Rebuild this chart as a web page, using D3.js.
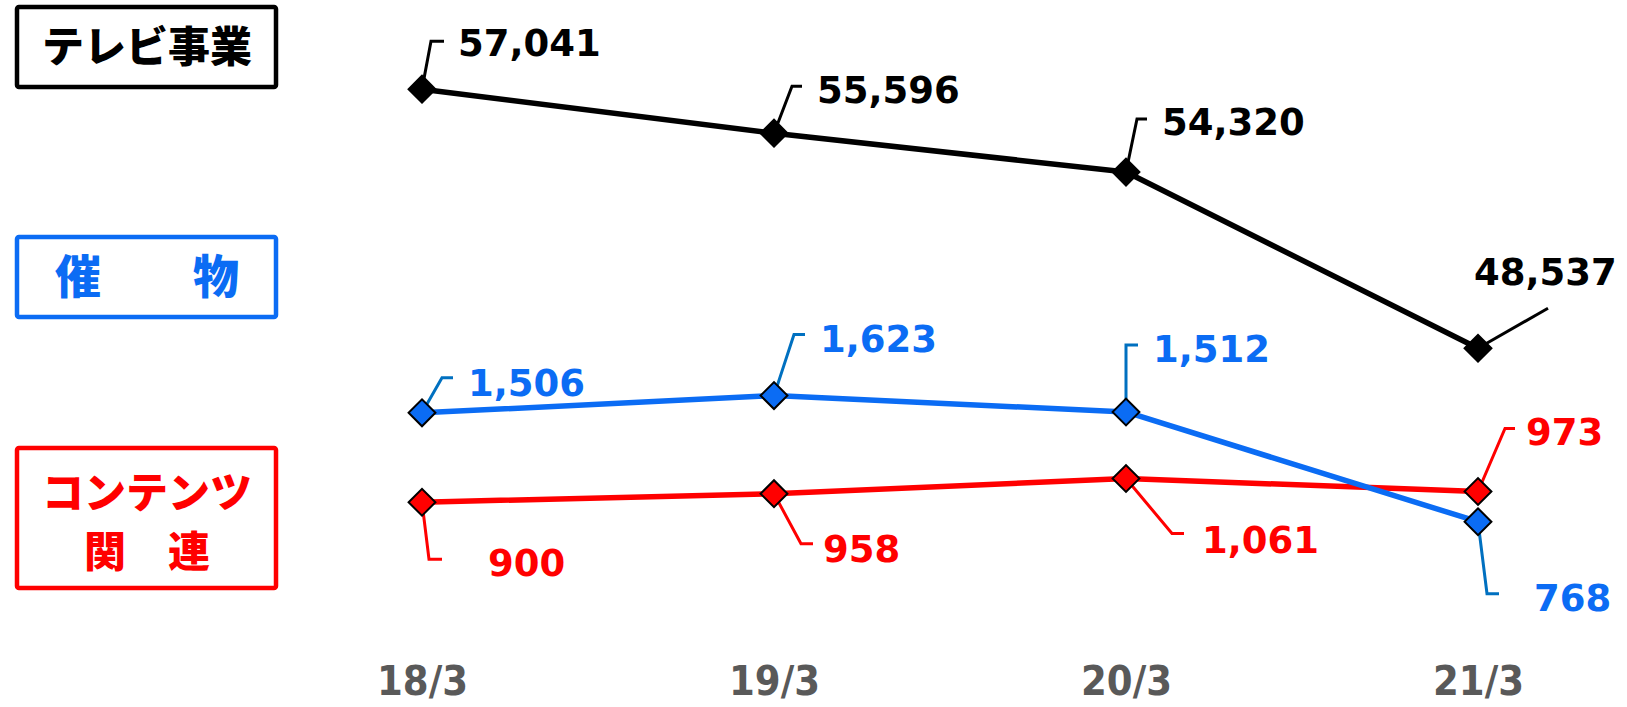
<!DOCTYPE html>
<html>
<head>
<meta charset="utf-8">
<script src="https://cdn.jsdelivr.net/npm/d3@7"></script>
<style>
  html, body { margin: 0; padding: 0; background: #fff; }
  svg { display: block; }
</style>
</head>
<body>
<svg id="chart" width="1627" height="707"></svg>
<script>
// data
const periods = ['18/3', '19/3', '20/3', '21/3'];
const tvValues = [57041, 55596, 54320, 48537];
const eventValues = [1506, 1623, 1512, 768];
const contentValues = [900, 958, 1061, 973];

// label placement relative to each marker: elbow dx/dy, hook length, text dx/dy
const tvLabelPos = [[9, -48, 13, 36, -33], [18, -47, 10, 43, -30], [11, -53, 10, 36, -37], [70, -40, 0, -4, -63]];
const eventLabelPos = [[20, -35, 11, 46, -17], [20, -61, 11, 46, -44], [0, -67, 12, 27, -50], [9, 72, 12, 56, 89]];
const contentLabelPos = [[7, 57, 13, 66, 74], [27, 50, 12, 49, 68], [46, 55, 12, 76, 74], [27, -63, 10, 48, -46]];

const svg = d3.select('#chart');
const fmt = d3.format(',');

const x = d3.scalePoint().domain(periods).range([422, 1478]);
const yTv = d3.scaleLinear().domain([45000, 60000]).range([456, -1]);
const ySmall = d3.scaleLinear().domain([0, 2000]).range([635, 340]);

// category boxes on the left
const boxes = [
  { lines: ['テレビ事業'], color: '#000000', y: 7, h: 80, size: 42, lineY: [62] },
  { lines: ['催\u3000\u3000物'], color: '#0B6CF4', y: 237, h: 80, size: 46, lineY: [293] },
  { lines: ['コンテンツ', '関\u3000連'], color: '#FF0000', y: 448, h: 140, size: 42, lineY: [508, 567] }
];
boxes.forEach(b => {
  svg.append('rect')
      .attr('x', 17).attr('y', b.y)
      .attr('width', 259).attr('height', b.h)
      .attr('rx', 2)
      .attr('fill', 'none')
      .attr('stroke', b.color)
      .attr('stroke-width', 4.5);
  b.lines.forEach((t, i) => {
    svg.append('text')
        .attr('x', 147).attr('y', b.lineY[i])
        .attr('text-anchor', 'middle')
        .attr('fill', b.color)
        .style('font-family', '"Noto Sans CJK JP", sans-serif')
        .style('font-weight', 900)
        .style('font-size', b.size + 'px')
        .text(t);
  });
});

// x axis labels
const axis = svg.append('g')
    .attr('transform', 'translate(0,695)')
    .call(d3.axisBottom(x).tickSize(0).tickPadding(0));
axis.select('.domain').remove();
axis.selectAll('text')
    .attr('dy', 0)
    .attr('fill', '#595959')
    .attr('textLength', 91)
    .attr('lengthAdjust', 'spacingAndGlyphs')
    .style('font-family', '"DejaVu Sans", sans-serif')
    .style('font-weight', 700)
    .style('font-size', '40px');

function drawSeries(values, y, lineColor, markerStroke, leaderColor, textColor, labelPos) {
  const pts = values.map((v, i) => [x(periods[i]), y(v)]);
  const g = svg.append('g');

  g.append('path')
      .attr('d', d3.line()(pts))
      .attr('fill', 'none')
      .attr('stroke', lineColor)
      .attr('stroke-width', 5.5)
      .attr('stroke-linejoin', 'round');

  // leader lines
  pts.forEach((p, i) => {
    const [ex, ey, hook] = labelPos[i];
    g.append('polyline')
        .attr('points', [p, [p[0] + ex, p[1] + ey], [p[0] + ex + hook, p[1] + ey]].join(' '))
        .attr('fill', 'none')
        .attr('stroke', leaderColor)
        .attr('stroke-width', 3);
  });

  // diamond markers
  g.selectAll('path.mark')
      .data(pts)
    .enter().append('path')
      .attr('class', 'mark')
      .attr('d', d3.symbol().type(d3.symbolSquare).size(360))
      .attr('transform', d => `translate(${d[0]},${d[1]}) rotate(45)`)
      .attr('fill', lineColor)
      .attr('stroke', markerStroke)
      .attr('stroke-width', 2);

  g.selectAll('text.val')
      .data(values)
    .enter().append('text')
      .attr('class', 'val')
      .attr('x', (d, i) => pts[i][0] + labelPos[i][3])
      .attr('y', (d, i) => pts[i][1] + labelPos[i][4])
      .attr('fill', textColor)
      .style('font-family', '"DejaVu Sans", sans-serif')
      .style('font-weight', 700)
      .style('font-size', '37px')
      .text(d => fmt(d));
}

drawSeries(tvValues, yTv, '#000000', '#000000', '#000000', '#000000', tvLabelPos);
drawSeries(contentValues, ySmall, '#FF0000', '#000000', '#FF0000', '#FF0000', contentLabelPos);
drawSeries(eventValues, ySmall, '#0B6CF4', '#000000', '#0070C0', '#0B6CF4', eventLabelPos);
</script>
</body>
</html>
